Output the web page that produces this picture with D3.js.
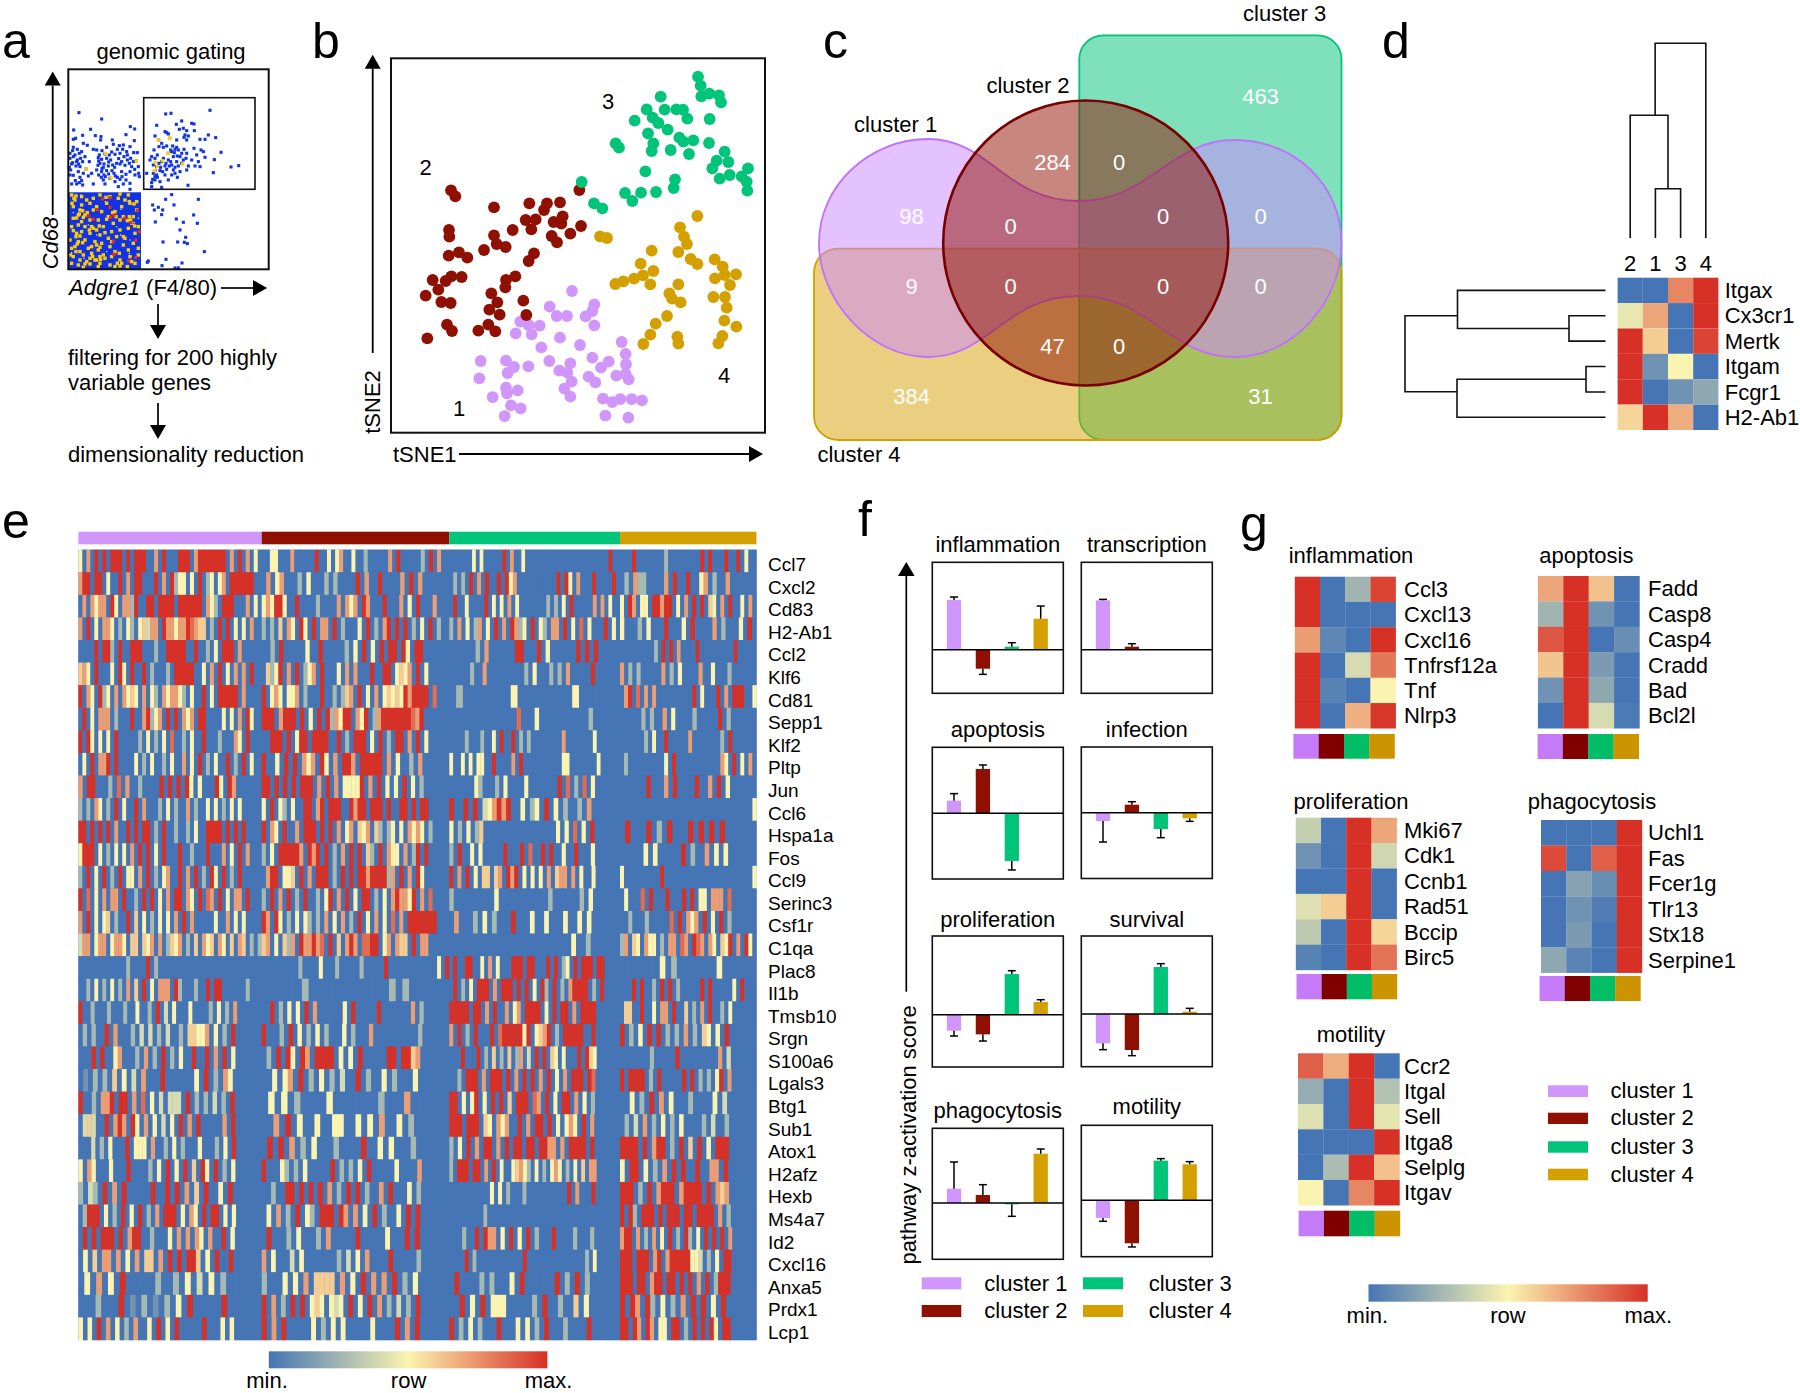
<!DOCTYPE html>
<html><head><meta charset="utf-8">
<script src="https://cdnjs.cloudflare.com/ajax/libs/d3/7.8.5/d3.min.js"></script>
<style>html,body{margin:0;padding:0;background:#fff}svg{display:block}text{font-family:"Liberation Sans",Arial,sans-serif;fill:#000}</style>
</head><body><svg id="c" width="1800" height="1393" viewBox="0 0 1800 1393"></svg>
<script>
/* ---------- DATA ---------- */
const clusterNames=["cluster 1","cluster 2","cluster 3","cluster 4"];
const clusterColors=["#d096fb","#8f1000","#00c47a","#d4a000"];
const clusterColorsDark=["#c57af8","#800000","#00bd66","#cc9400"];
const heatStops=["#4575b4","#fbf4b0","#d73027"];

/* panel a: gating scatter (readings in plot units) */
const gateBlueUpper=[[117,158],[185,177],[101,210],[152,208],[271,200],[284,207],[128,226],[166,227],[183,230],[258,224],[182,240],[107,235],[100,238],[217,240],[283,242],[250,255],[238,257],[220,253],[142,256],[130,250],[100,262],[90,280],[105,285],[118,280],[125,275],[160,268],[170,270],[186,272],[195,282],[215,276],[225,283],[240,280],[260,275],[281,278],[292,278],[90,295],[100,290],[112,300],[122,295],[148,305],[175,293],[185,298],[200,295],[212,300],[230,310],[245,305],[262,300],[272,295],[288,303],[95,312],[108,318],[120,320],[180,310],[192,312],[205,318],[218,315],[240,312],[255,316],[275,320],[295,320],[90,345],[100,346],[115,335],[130,340],[138,327],[155,340],[170,330],[185,335],[192,345],[210,355],[222,340],[232,352],[245,335],[258,343],[270,335],[285,345],[298,350],[106,362],[118,368],[128,375],[145,348],[160,372],[190,360],[195,372],[225,365],[240,358],[250,372],[270,370],[235,380],[270,388],[95,372],[125,362],[178,285],[190,322],[208,285],[176,303],[200,332],[262,285],[280,305],[110,305],[92,330],[98,308],[116,312],[128,305],[88,322],[174,316],[186,326],[206,306],[224,322],[236,296],[252,290],[268,310],[284,328],[296,340],[226,348],[216,332],[196,350],[184,352],[206,342],[246,350],[258,360],[120,352],[110,372],[176,345],[135,290],[98,272],[112,268],[270,260],[248,268],[232,268],[200,262]];
const gateBlueInner=[[377,162],[393,160],[510,151],[409,193],[425,183],[455,190],[462,192],[350,196],[418,208],[463,212],[345,228],[375,215],[385,222],[430,205],[435,225],[445,228],[480,238],[495,238],[527,233],[505,225],[356,240],[389,235],[365,250],[410,240],[380,258],[398,258],[410,262],[440,240],[357,260],[342,270],[352,285],[385,280],[395,275],[415,270],[432,268],[462,265],[483,270],[543,277],[335,290],[345,295],[370,295],[400,290],[420,290],[440,280],[470,285],[490,275],[495,292],[523,299],[330,300],[365,305],[385,300],[410,305],[430,300],[455,300],[475,305],[573,321],[596,317],[520,338],[340,315],[350,320],[375,318],[395,315],[415,318],[445,318],[465,318],[480,320],[320,340],[345,332],[360,332],[380,328],[400,330],[420,335],[440,330],[350,345],[375,345],[395,345],[335,368],[345,360],[360,365],[385,360],[412,352],[335,380],[365,382],[444,376],[405,340],[345,350],[405,268],[378,310],[425,310],[438,295],[392,305],[357,310],[380,218],[432,232],[440,212],[392,270],[403,278],[370,262],[412,288],[425,280],[388,318],[405,322],[368,335],[352,352],[340,340],[362,322],[338,358]];
const gateBlueLower=[[377,418],[395,404],[475,418],[338,435],[402,435],[355,442],[343,450],[368,450],[365,464],[461,465],[346,486],[409,477],[430,487],[472,490],[420,510],[437,532],[369,546],[413,546],[433,547],[442,551],[493,575],[325,603],[378,598],[426,609],[322,607],[366,617],[405,624],[415,624]];
const gateYellow=[[355,240],[389,235],[385,280],[345,307],[367,302],[352,320],[343,332],[428,312],[197,280],[138,327],[213,354],[289,303],[95,405],[105,420],[125,410],[150,430],[180,405],[210,410],[235,415],[265,405],[290,425],[100,440],[125,435],[115,465],[135,465],[160,450],[185,455],[205,470],[245,440],[270,430],[280,470],[100,475],[150,480],[175,480],[220,490],[250,470],[275,490],[295,500],[95,500],[115,495],[135,500],[160,505],[190,500],[215,515],[240,510],[265,505],[285,520],[110,520],[125,515],[150,520],[180,525],[205,535],[230,530],[255,535],[90,540],[115,545],[135,540],[165,545],[185,550],[210,560],[250,555],[280,550],[95,565],[120,575],[145,565],[175,570],[225,575],[265,570],[295,565],[100,590],[130,585],[155,580],[190,585],[215,590],[240,600],[270,590],[295,585],[95,610],[115,615],[140,605],[165,600],[180,610],[210,615],[245,610],[285,610],[130,622],[175,620],[225,620],[262,620],[195,595],[120,450],[170,440],[140,420],[200,430],[255,420],[225,455],[290,450],[108,408],[160,415],[128,452],[108,530],[155,560],[195,518],[238,580],[178,498],[268,470],[120,600],[180,590],[150,612],[96,430],[102,415],[130,472],[142,458],[110,474],[118,462],[148,510],[155,500],[170,510],[120,528],[112,552],[105,560],[128,548],[170,555],[180,562],[158,590],[170,600],[182,598],[240,480],[262,482],[272,480],[284,498],[228,470],[218,458],[198,412],[240,402],[268,425],[282,432],[92,585],[108,575],[232,610],[240,618],[275,605],[150,595],[135,612],[200,478],[250,530],[215,545],[125,485],[100,512]];
const gateRed=[[187,417],[212,413],[210,442],[172,449],[146,468],[160,478],[222,466],[212,472],[254,475],[292,452],[273,488],[298,515],[220,544],[287,541],[222,583],[287,593],[266,603]];
const gateGaps=[[123,405],[196,425],[243,448],[283,488],[242,525],[100,458],[145,495],[270,540],[200,575],[95,578],[170,525],[295,475],[230,500],[132,595],[268,580]];
const gateDenseBlock=[[87,397],[303,628]];

/* panel b: tSNE readings */
const tsne1=[[636,753],[703,793],[569,800],[697,813],[677,829],[590,828],[621,828],[481,845],[506,855],[539,857],[703,856],[467,880],[515,883],[600,893],[544,922],[660,915],[785,906],[797,942],[697,953],[362,963],[438,962],[462,981],[568,963],[631,970],[746,965],[798,973],[723,983],[505,979],[443,999],[358,1015],[598,992],[622,998],[769,1007],[797,1002],[686,1010],[806,1018],[635,1025],[706,1027],[438,1043],[473,1051],[441,1060],[613,1046],[398,1071],[631,1070],[729,1076],[757,1086],[781,1077],[815,1077],[846,1081],[453,1096],[482,1105],[434,1128],[736,1127],[805,1133]];
const tsne2=[[273,451],[286,469],[402,502],[508,490],[561,490],[600,487],[552,510],[658,450],[497,540],[527,538],[608,529],[514,568],[581,546],[604,551],[663,558],[267,570],[268,590],[458,570],[402,586],[575,588],[591,607],[631,581],[410,612],[437,621],[372,630],[297,637],[266,647],[322,653],[522,640],[506,663],[466,709],[438,720],[436,742],[305,711],[274,709],[257,723],[218,720],[235,749],[197,767],[244,786],[272,789],[394,760],[412,787],[388,809],[419,824],[490,782],[499,825],[261,854],[276,873],[385,854],[355,872],[406,874],[202,895]];
const tsne3=[[1014,110],[1022,137],[1024,169],[1048,161],[1077,166],[1083,187],[902,170],[860,208],[914,209],[949,208],[969,209],[982,236],[824,242],[878,233],[895,249],[1049,237],[923,269],[864,280],[958,293],[970,305],[1000,301],[1047,309],[880,310],[875,333],[932,330],[987,342],[767,310],[777,323],[1094,335],[1070,362],[1105,366],[1057,385],[1164,385],[1109,405],[1079,416],[1145,409],[1160,425],[1162,452],[856,394],[945,418],[941,444],[795,459],[843,458],[888,456],[817,483],[665,426],[702,490],[727,505]];
const tsne4=[[1012,528],[960,562],[972,590],[981,612],[955,636],[992,657],[1012,672],[875,632],[842,671],[880,693],[849,706],[822,716],[790,724],[766,732],[871,733],[720,589],[741,594],[1064,658],[1088,680],[1128,703],[1094,705],[1065,715],[1110,735],[1060,771],[1095,771],[1100,803],[955,733],[928,760],[936,776],[962,787],[921,828],[887,851],[871,884],[850,912],[952,890],[955,911],[1093,842],[1129,860],[1087,888],[1075,910]];
const tsneLabels=["1","2","3","4"];

/* panel c */
const vennCounts=["463","284","0","98","0","0","0","9","0","0","0","47","0","384","31"];

/* panel d */
const dCols=["2","1","3","4"];
const dRows=["Itgax","Cx3cr1","Mertk","Itgam","Fcgr1","H2-Ab1"];
const dItgax=[0,0,.78,1],dCx3cr1=[.45,.7,0,1],dMertk=[1,.6,0,.95],dItgam=[1,.12,.5,0],dFcgr1=[1,0,.12,.2],dH2Ab1=[.58,1,.68,0];
const dTopTree={h:194.7,kids:[{h:122.7,f:.66,kids:[{leaf:"2"},{h:49.3,kids:[{leaf:"1"},{leaf:"3"}]}]},{leaf:"4"}]};
const dLeftTree={h:200.5,kids:[{h:148,f:.665,kids:[{leaf:"Itgax"},{h:36.5,kids:[{leaf:"Cx3cr1"},{leaf:"Mertk"}]}]},{h:148.5,f:.33,kids:[{h:19.5,kids:[{leaf:"Itgam"},{leaf:"Fcgr1"}]},{leaf:"H2-Ab1"}]}]};

/* panel e: each row has four cluster segments; letters are expression levels */
const eGenes=["Ccl7","Cxcl2","Cd83","H2-Ab1","Ccl2","Klf6","Cd81","Sepp1","Klf2","Pltp","Jun","Ccl6","Hspa1a","Fos","Ccl9","Serinc3","Csf1r","C1qa","Plac8","Il1b","Tmsb10","Srgn","S100a6","Lgals3","Btg1","Sub1","Atox1","H2afz","Hexb","Ms4a7","Id2","Cxcl16","Anxa5","Prdx1","Lcp1"];
const eLevels={".":0,_:0,b:.12,g:.27,c:.4,y:.5,p:.6,o:.72,s:.85,r:1};
const eRows=[
"y.o.r.r.rrr.r.rrr..o.r...rrr.orrrrrrr.o.r.o.y.|..yy...o.....r..y.yo..y..g.....o.r.....g.r.o..|......y.y.....r.o..y......................r..|...r.......g........r.r...r..r.y..",
"orr.rr.y..r.o.rr...r.o.rgyy.y.r.gy.yo.rrrrrr..|.o.yo...g.y...g.g....r.o..r....o.r.o..........|.g.g.r.o.r..r.ryo..........r.ry.o...r....r.|.g.ogg....o.r..r..yo.g..o..........",
".o.oyoo.ry.oogr..rr.rrrr.rrrrrr.oyg.rrr...o.y.|yoyrry..r....g....o.oyo.ro...r...o.y.r...o...|.r..y....r.y.y.o.y.......g.g.y.r.....o.o.y..|y.ro.yy.rrorr.y.o.r.r.py.o.r..y.o.",
"o.r.y.ooy.g.yg.ypcoo.rooyoorsopp.g.r.r.y.y.o..|g.g.p.oy.ry.r.oo.r.g...y.r.g.or.r.r.g.y.r.g..|g.o.y.go.y.r.o.rogy.r.yg.oo.r.y.s.y...r.y.|y...g.y...r...y.r....o.g...y.r.",
"....r.rrg.r..rrr...g..rrrrr..r..g.y.rrr.o.....|..g.r.....y..r.....g.y.r.y.r.rr.ry.rr.........|......g.o......rr...r.y......r.r.r.....|.........g.r.r.o....r.........r.....",
"poy.r...y.ry.r..r.g...g.rrrrr..y.o.r.y.o.o.r..|.pgyr.o.r.gyo.r...y.o.o...r..rr.ypyo.r.y.....|.....g..o.........g.y...g.g.o.....r.........|o.g.g.....o.g.y....o..y...g.......",
"r.oy.rgy.o.oypy.o.yg.oyooyg.y..r.y.rrrrr.o....|r.yoy.yyo.g...r..g.gpo.r.y.o.ypypyrorrrr.s...|.g.......y........y...........................|.or.s.o.o.........r.y...r.o.rrr..y",
".r.y.ooo.g...r..orgyo.r.r.oyo.rr....y.y.o.ry..|rrr.orrr.r.y.r.rgoyrr.oyr.gorrrrrrrsor.......|...............s...y...........g..............|.....g.g..o.y....g.....r.g........",
"r.ry.y.y.r.....g.y.g.y.s..g.y..r...g...oy.r...|..rrr.r.yrr.rrrr..r.g.rrr.y.r.g.rr.o.r.y.....|....g...g..y.r..r.g.g........o.......y......|......g.y..r.....o.......g.r......",
".y.r.oor.r....y.g.y..g.y..o.y.r.g.y..r.g.r.y..|r..y.r.r.oyo.ry.o.rro.rrrrr.o.y..g.o.........|y..y.y.yy..r....o.r..........yy.......y.....|.g.........y.r...........oy.r.y.o.",
"o.rr...g.s.o..g....r.r.r.ry.y...ry.ro.........|rr.r.r.r.rrr.o.r.o.yyyyr.o.r.y.y.r.y.g.......|......yg...g.y....y.......r.s.g.s.y.........|......r...o.r....r..o.r.y.........",
"g.g.oy.g.r.y..r.o...g.y.g..o.g..y.y.g.y.y.....|y.r.yg.y..rr.or.rrr..rorr.rrr.r..rr.r.rr.....|r..r.r.cyoror..y.gy.r.y.g..g.o.............|.................................y",
"rr.r.r.r.o..r.r.rr.g.r..g..g.y..rrrr.r.r.r....|r.oy.r..o.rrr.r.r.o.yo.pyo.pg.gy.y.oyoy.g....|y.g.y.gp.................y.y.s.y.r.........|.r...r.g.r...r.r.r.r.............",
"yrrr.y.g.y.y.o.r.r.y.r...r..g...r...o.y.r.o...|g.y.rrrrro.ror.r.g.o.r.r.pg.r.oyy.o.gr.r.....|g.r..y.y.....r...r.s..r.r..y..r...y.........|.....y.y.....r.g..o.y.y..........",
"g.r.y.r.g.r.yy.o.r.g.yo..r.o.r.g.ry.r.g.r.....|.orr.yyp.r.o.rrr.g.r.r.rrorrrrgo.r.o.ry......|r.o.r.y.pp.po.ror.y.y.y.o.poo.o.y..y.......|y.........r......................y",
"r.s.y.o.oo.r..g.r.r.y.o.rr.oy.r.so.r.y.oo.r...|g.r.o.r.g.r..g.yr.o.r.y.rr.g.y.orooyr.o.s....|g.........y...........g......g.y............|.y...s.r...r...r.r.yy.ooo.s.......",
"o.r.y.yp.g..r.p.y.g.y.y.o.r.o.....y..o.y.y....|ro.ry.g.y.yg.g.o.y.o.g.r.y.o.y.s.o.rrrrrrr...|.o...g.y.g...r...y..y...y..y.y..............|..g...g.....s.r.oyo.r.y.r.g.......",
"coo.yoo.yooy.pp.pyo.o.gpyo.g.p.oyp.oy.p.op.g.g|po.y.pgo.rooros.r.p.oro.ssrr.yo.opp.r.oo.....|.........................y..g................|go.py.oyy.g.oo.so.rso.oy.pyr.o.ry.",
"............g....r.g..........._______________|.........g....y...g.....g.....r............y.r|.r..rr..y.o.y...rrr.rr...r.r.gy.r.rrr.rr....|.......y.g.......y................",
"..g.y.g.y.g.o.p.r.y.ooo.rg...g..r.rr......g...|......g............g.g.......................|.r.g.y.rrr.o.rrr.r.r.y.rg.r.g.orrrr.g.r....|...r.r..g.r.r.g.....r.r.....y.r...",
"r..g...g...g..y..g.r.c.y...y....g.y.g.o.......|..r.g.y.y.r.o......y.r.....r.......o.g.......|rrrrr.rr.o.r..o.yo.rrrr.y.r.rr.o.rrrr.......|.pp..r..y.oo.r..p.g.o.r..g.y......",
".g.g..r.o...g.c.c.g.c..g.ppyyo.y.g.r..........|r...g.r.y.g.y.g...y.g...o..........g.........|o.r.g.r...r.srrrrryr.ypor.g.rrrrr..r........|r.g.y.r.r.g.g.o.g.py.y.r..........",
"...r.r..yo...g.o.g.r.g.y..r..r.o.r.y..........|.g.r.ry.ro.rrrr.y.y.r.....rr.rrpo............|...r...r.g.p.g.p.go.c.r.r.py.y...r.rpy......|.......g.....r.........o.c.........",
".b.g.g.p.y.c.o...r......y.r.g.oy..............|..y.yo.r.g.y.g.c..r.g..y.g...y...............|..g.rrr.o.rrr.r.o.r.r.o.r.y.o.rrr.rs........|r.rrrr.g.r.....r.r.g.g.yr.o.......",
"r..g.oor.rr.o.s.y.c.ccc.r.g.g.c.g.r...........|.y.y.g....y.......g...o......................|rr.y.yr.y.r.r.p.rrr.so.r.y.rr.o.y.g.........|..y.g.r.o.y...g....y.c............",
".cpc..r.oro.ry.o.y.c.y.r.o.r.....o.r..........|..o.r.y..y..yy..y.y.o..y.g...................|rrr.rrr.py.oyo..r.o.rr.r.y.yoy.r.o...........|.g.c.o.g.y.g.y....g.c..g..........",
"...c.g.y...r.yyy.o..g.y.g...y...g.y.r.........|.r.r.o.g.y...g....r..y.y...g.................|g.y.r.o.rr.o.r.rr.rr.rroo.o.rrrr.r..........|rrrr.r.orr.g.r.p.r.y.rrr..........",
"y.oy...y...r....g.y.r.y.r.p.ry.r.g.y..........|r...yg.g.y.....r.g.g.y.r.....y....o..........|g.rrr.rr.o.r.y..ypoyg.y.g.yoy.g.y.p.oo......|y.rr.y.g.o.r.r..r..oo.r...........",
"g.cg.r.o.r.....r..r.r.o.p.r..y.r..............|..g..rr.r.r.r.o.g.r.r.g..o.r...y.g...........|..........y.y.g...g..........r.o...r.........|rrr.g.r.orrr.orrrr.r.opo..........",
".grrr.y.g.r.y.r.g.o.rrr.y.oy.r.rr.y.y.........|.y.o.g.r.yg.rrr.ro.o.y.r.g..y.r.r............|.........g___________________________________|r.rg.rrr.r.rrr.rr.rrrr.o.g........",
".r.r.rrr.r.orr..g...y.o.o.oy.o..r.y...........|.r...g.y...g.o.....r.....y...r.r..............|...g..r.roo.y.r.y.r.g...r....g...g...........|orr.o.g.o.y.r.g.rg.y.r.r.r.o......",
".y.p.oo.o.y.o.pp.o.r.r.rrp.y.r..r.............|o.y...c.y.......g.c.y.o....r.....g............|....r.g............r...............g.y.......|rrr.rrr.or.orrrrryyc.g.y.rr.......",
".y.o.y.r.....g..g.y.c.y.g.....................|g...y.y.o.pppp.o.y.r.o.o.r.g.y................|.r....g.g...y.r......r.g.r.g.................|rrr.rr.orr.rr.r.r.o.r.grrr........",
"...g...r.b.g.b.g.y.r.....r....................|r.o.g.r.r.ypy.ycy.r.y.r.o.g.c.g.r.............|..r.y.r.yyy.....g.r..g..p.y..................|r.ro.rg.y.g.o.r.r.y.r.............",
"y.y.r.o.y.g.o..y.r.y.r.....r...y.y............|r.o.r.....y.g.y.y.....y....r.o.r..............|r.g.y.g...r...y.y.g.r...g....r...............|rr.ro.ro.yy.rr.g.r.r.ry.rr........"
];

/* panel f: bar value and error tip for the four clusters */
const fPathways=["inflammation","transcription","apoptosis","infection","proliferation","survival","phagocytosis","motility"];
const fInflammation=[149,-57,9,93],fInflammationErr=[158,-74,21,131];
const fTranscription=[148,9,0,0],fTranscriptionErr=[151,18,null,null];
const fApoptosis=[38,133,-143,0],fApoptosisErr=[59,145,-170,null];
const fInfection=[-25,24,-49,-17],fInfectionErr=[-88,33,-75,-26];
const fProliferation=[-48,-59,122,38],fProliferationErr=[-64,-79,132,45];
const fSurvival=[-88,-108,141,7],fSurvivalErr=[-107,-125,151,17];
const fPhagocytosis=[43,24,-4,148],fPhagocytosisErr=[123,55,-40,162];
const fMotility=[-53,-129,119,108],fMotilityErr=[-63,-140,125,116];

/* panel g */
const gInflammationGenes=["Ccl3","Cxcl13","Cxcl16","Tnfrsf12a","Tnf","Nlrp3"];
const gInflammation=[[1,0,.25,.95],[1,0,0,0],[.72,.07,0,1],[1,0,.4,.82],[1,.05,0,.5],[1,0,.67,.98]];
const gApoptosisGenes=["Fadd","Casp8","Casp4","Cradd","Bad","Bcl2l"];
const gApoptosis=[[.7,1,.63,0],[.25,1,.12,0],[.9,1,0,.1],[.62,1,.15,0],[.12,1,.2,0],[0,1,.4,.02]];
const gProliferationGenes=["Mki67","Cdk1","Ccnb1","Rad51","Bccip","Birc5"];
const gProliferation=[[.35,0,1,.7],[.12,0,1,.38],[0,0,1,0],[.42,.6,1,0],[.33,0,1,.58],[.05,0,1,.83]];
const gPhagocytosisGenes=["Uchl1","Fas","Fcer1g","Tlr13","Stx18","Serpine1"];
const gPhagocytosis=[[0,0,0,1],[.93,0,.88,1],[0,.18,.1,1],[0,.12,.03,1],[0,.15,0,1],[.2,.06,0,1]];
const gMotilityGenes=["Ccr2","Itgal","Sell","Itga8","Selplg","Itgav"];
const gMotility=[[.88,.68,1,0],[.22,0,1,.3],[.42,0,1,.44],[0,0,0,1],[0,.28,1,.63],[.5,0,.78,1]];

/* ---------- DRAW ---------- */
const svg=d3.select("#c");
const heat=d3.scaleLinear().domain([0,.5,1]).range(heatStops).interpolate(d3.interpolateRgb);
function T(x,y,s,o={}){const size=o.size||22;
  return svg.append("text").attr("x",x).attr("y",y+(o.raw?0:size*.35)).attr("text-anchor",o.a||"start")
   .attr("font-size",size).attr("font-style",o.italic?"italic":null).style("fill",o.fill||"#000").text(s);}
function Box(x0,y0,x1,y1,w=1.7){svg.append("rect").attr("x",x0).attr("y",y0).attr("width",x1-x0).attr("height",y1-y0).attr("fill","none").attr("stroke","#111").attr("stroke-width",w);}
function Arrow(x0,y0,x1,y1,hw=8,hl=14,w=1.7){ // shaft and filled triangle head
  const dx=x1-x0,dy=y1-y0,L=Math.hypot(dx,dy),ux=dx/L,uy=dy/L,bx=x1-ux*hl,by=y1-uy*hl;
  svg.append("line").attr("x1",x0).attr("y1",y0).attr("x2",bx).attr("y2",by).attr("stroke","#000").attr("stroke-width",w);
  svg.append("path").attr("d",`M${x1},${y1}L${bx-uy*hw},${by+ux*hw}L${bx+uy*hw},${by-ux*hw}Z`).attr("fill","#000");
}
function PanelLabel(x,y,s){T(x,y,s,{size:50,raw:true});}
[["a",2,58],["b",312,58],["c",823,58],["d",1382,58],["e",2,538],["f",858,536],["g",1240,541]].forEach(d=>PanelLabel(d[1],d[2],d[0]));
function Gradient(id){const g=svg.append("defs").append("linearGradient").attr("id",id);
  d3.range(0,1.01,.1).forEach(t=>g.append("stop").attr("offset",t).attr("stop-color",heat(t)));}
Gradient("hg");
function ColorBar(x0,x1,y0,y1,lx0,lxm,lx1,base){
  const b=d3.scaleLinear().domain([0,1]).range([x0,x1]);
  svg.append("rect").attr("x",b(0)).attr("y",y0).attr("width",b(1)-b(0)).attr("height",y1-y0).attr("fill","url(#hg)");
  T(lx0,base,"min.",{a:"middle",raw:true});T(lxm,base,"row",{a:"middle",raw:true});T(lx1,base,"max.",{a:"middle",raw:true});
}

/* panel a */
T(171,51,"genomic gating",{a:"middle"});
const ax=d3.scaleLinear().domain([85,686]).range([68.3,268.7]),ay=d3.scaleLinear().domain([28,628]).range([69.3,269.3]);
svg.append("rect").attr("x",ax(gateDenseBlock[0][0])).attr("y",ay(gateDenseBlock[0][1])).attr("width",ax(gateDenseBlock[1][0])-ax(gateDenseBlock[0][0])).attr("height",ay(gateDenseBlock[1][1])-ay(gateDenseBlock[0][1])).attr("fill","#1133e6");
function Sq(data,col,s=3){svg.append("g").selectAll("rect").data(data).join("rect").attr("x",d=>ax(d[0])-s/2).attr("y",d=>ay(d[1])-s/2).attr("width",s).attr("height",s).attr("fill",col);}
Sq(gateGaps,"#fff",1.2);Sq(gateBlueUpper,"#1133e6",3.1);Sq(gateBlueInner,"#1133e6",3.1);Sq(gateBlueLower,"#1133e6",3.1);Sq(gateYellow,"#ffcc00",3.4);Sq(gateRed,"#f02a10",3.2);
Box(68.3,69.3,268.7,269.3,2);Box(143.7,97.7,255,189.3,1.6);
Arrow(52.7,215,52.7,71.5,8,14,1.8);
svg.append("text").attr("transform","translate(58,243) rotate(-90)").attr("text-anchor","middle").attr("font-size",22).attr("font-style","italic").text("Cd68");
{const t=T(69,287,"Adgre1",{italic:true});t.append("tspan").attr("font-style","normal").text(" (F4/80)");}
Arrow(221,288,267,288,8,14);
Arrow(158,304,158,339,8,14);
T(68,365,"filtering for 200 highly",{raw:true});
T(68,390,"variable genes",{raw:true});
Arrow(158,403,158,439,8,14);
T(68,462,"dimensionality reduction",{raw:true});

/* panel b */
const bx=d3.scaleLinear().domain([93,1215]).range([391,765]),by=d3.scaleLinear().domain([55,1178]).range([58.3,432.7]);
[[tsne1,0],[tsne4,3],[tsne2,1],[tsne3,2]].forEach(([pts,i])=>{
  svg.append("g").selectAll("circle").data(pts).join("circle").attr("cx",d=>bx(d[0])).attr("cy",d=>by(d[1])).attr("r",5.9).attr("fill",clusterColors[i]);
});
Box(391,58.3,765,432.7,2);
[[459,408],[425.7,167.7],[608,101.7],[724,375]].forEach((p,i)=>T(p[0],p[1],tsneLabels[i],{a:"middle"}));
Arrow(372.7,353,372.7,54.7,8,14,1.8);
svg.append("text").attr("transform","translate(380,402) rotate(-90)").attr("text-anchor","middle").attr("font-size",22).text("tSNE2");
T(393,462,"tSNE1",{raw:true});
Arrow(459,454,763,454,8,14,1.8);

/* panel c */
function RR(x0,y0,x1,y1,r,col,op){svg.append("rect").attr("x",x0).attr("y",y0).attr("width",x1-x0).attr("height",y1-y0).attr("rx",r).attr("ry",r).attr("fill",col).attr("fill-opacity",op).attr("stroke",col).attr("stroke-width",1.8);}
RR(1079.3,35.3,1341.5,440,24,"#00c47a",.5);
RR(814,248.7,1341.5,440,24,"#d4a000",.5);
svg.append("path").attr("d","M819,243 C819,185 870,139 928,139 C990,139 1005,201 1079,201 C1150,201 1170,140 1234,140 C1295,140 1341.5,185 1341.5,243 C1341.5,300 1295,357 1234,357 C1170,357 1150,296 1079,296 C1005,296 990,357 928,357 C870,357 819,300 819,243 Z")
 .attr("fill","#cc88ff").attr("fill-opacity",.52).attr("stroke","#c070ff").attr("stroke-width",1.8);
svg.append("circle").attr("cx",1085.7).attr("cy",243).attr("r",142.5).attr("fill","#8f1000").attr("fill-opacity",.5).attr("stroke","#780000").attr("stroke-width",2.6);
[[1260.5,96],[1052.5,162],[1119,162],[911.6,216.7],[1010.5,226.7],[1163,216.7],[1260.5,216.7],[911.6,286.7],[1010.5,286.7],[1163,286.7],[1260.5,286.7],[1052.5,346.7],[1119,346.7],[911.6,396.7],[1260.5,396.7]]
 .forEach((p,i)=>T(p[0],p[1],vennCounts[i],{a:"middle",fill:"#fff"}));
[[1284.7,13.3],[1028,85.7],[895.7,124],[859,454]].forEach((p,i)=>T(p[0],p[1],clusterNames[[2,1,0,3][i]],{a:"middle"}));

/* panel d */
const dx=d3.scaleBand().domain(dCols).range([1617.6,1718.4]),dy=d3.scaleBand().domain(dRows).range([277.7,430]);
[dItgax,dCx3cr1,dMertk,dItgam,dFcgr1,dH2Ab1].forEach((row,r)=>{
  svg.append("g").selectAll("rect").data(row).join("rect").attr("x",(d,i)=>dx(dCols[i])).attr("y",dy(dRows[r])).attr("width",dx.bandwidth()).attr("height",dy.bandwidth()).attr("fill",d=>heat(d));
  T(1724.7,dy(dRows[r])+dy.bandwidth()/2,dRows[r]);
});
dCols.forEach(c=>T(dx(c)+dx.bandwidth()/2,263,c,{a:"middle"}));
function Tree(node,leafPos,hPos,horizontal){ // returns [leaf axis pos, height pos]
  if(node.leaf) return [leafPos(node.leaf),hPos(0)];
  const a=Tree(node.kids[0],leafPos,hPos,horizontal),b=Tree(node.kids[1],leafPos,hPos,horizontal),h=hPos(node.h),f=node.f===undefined?.5:node.f,m=a[0]+(b[0]-a[0])*f;
  const d=horizontal?`M${a[1]},${a[0]}H${h}V${b[0]}H${b[1]}`:`M${a[0]},${a[1]}V${h}H${b[0]}V${b[1]}`;
  svg.append("path").attr("d",d).attr("fill","none").attr("stroke","#111").attr("stroke-width",1.6);
  return [m,h];
}
Tree(dTopTree,l=>dx(l)+dx.bandwidth()/2,d3.scaleLinear().domain([0,194.7]).range([238,43.3]),false);
Tree(dLeftTree,l=>dy(l)+dy.bandwidth()/2,d3.scaleLinear().domain([0,200.5]).range([1605.5,1405]),true);

/* panel e */
const eX=[78.4,261.7,449.3,620,756.4];
clusterColors.forEach((c,i)=>svg.append("rect").attr("x",eX[i]).attr("y",531.7).attr("width",eX[i+1]-eX[i]).attr("height",12.6).attr("fill",c));
const eY=d3.scaleBand().domain(eGenes).range([549.7,1340]);
svg.append("rect").attr("x",eX[0]).attr("y",549.7).attr("width",eX[4]-eX[0]).attr("height",790.3).attr("fill",heatStops[0]);
eRows.forEach((row,r)=>{
  row.split("|").forEach((seg,s)=>{
    const chars=seg.replace(/\.+$/,m=>m.length>6?".".repeat(6):m).split("");
    const band=d3.scaleBand().domain(d3.range(chars.length)).range([eX[s],eX[s+1]]);
    svg.append("g").selectAll("rect").data(chars).join("rect").attr("x",(d,i)=>band(i)).attr("y",eY(eGenes[r])).attr("width",band.bandwidth()+.3).attr("height",eY.bandwidth()+.3).attr("fill",d=>heat(eLevels[d]));
  });
  T(768,eY(eGenes[r])+eY.bandwidth()/2+3.5,eGenes[r],{size:19});
});
ColorBar(268.8,547.4,1351.3,1368.3,267,408.6,548.5,1388);

/* panel f */
const fLayout=[[932.3,562.3,693.3,649.7,551.7],[1081.3,562.3,693.3,649.7,551.7],[932.3,747.3,879,813.3,737],[1081.3,747,878.5,812.7,737],[932.3,936,1067,1014.7,926.7],[1081.3,936,1066.7,1014,926.7],[932.3,1128.3,1259.3,1203,1118],[1081.3,1125.3,1256.7,1200.3,1114]];
[[fInflammation,fInflammationErr],[fTranscription,fTranscriptionErr],[fApoptosis,fApoptosisErr],[fInfection,fInfectionErr],[fProliferation,fProliferationErr],[fSurvival,fSurvivalErr],[fPhagocytosis,fPhagocytosisErr],[fMotility,fMotilityErr]].forEach(([v,e],p)=>{
  const [x0,y0,y1,z,base]=fLayout[p],x1=x0+131;
  const y=d3.scaleLinear().domain([0,100]).range([z,z-33.33]);
  const w=14.3,cx=i=>x0+21.7+i*28.9;
  svg.append("g").selectAll("rect").data(v).join("rect").attr("x",(d,i)=>cx(i)-w/2).attr("y",d=>Math.min(y(d),y(0))).attr("width",w).attr("height",d=>Math.abs(y(d)-y(0))).attr("fill",(d,i)=>clusterColors[i]);
  e.forEach((t,i)=>{if(t===null)return;
    svg.append("line").attr("x1",cx(i)).attr("x2",cx(i)).attr("y1",y(v[i])).attr("y2",y(t)).attr("stroke","#000").attr("stroke-width",1.5);
    svg.append("line").attr("x1",cx(i)-4).attr("x2",cx(i)+4).attr("y1",y(t)).attr("y2",y(t)).attr("stroke","#000").attr("stroke-width",1.5);});
  Box(x0,y0,x1,y1,1.6);
  svg.append("line").attr("x1",x0).attr("x2",x1).attr("y1",z).attr("y2",z).attr("stroke","#000").attr("stroke-width",1.6);
  T((x0+x1)/2,base,fPathways[p],{a:"middle",raw:true});
});
Arrow(906.3,991.7,906.3,562,8.3,14,1.7);
svg.append("text").attr("transform","translate(916,1135) rotate(-90)").attr("text-anchor","middle").attr("font-size",22).text("pathway z-activation score");
function Legend(rows){rows.forEach(([sx0,sx1,sy0,sy1,tx,ty,i])=>{
  svg.append("rect").attr("x",sx0).attr("y",sy0).attr("width",sx1-sx0).attr("height",sy1-sy0).attr("fill",clusterColors[i]);
  T(tx,ty,clusterNames[i]);});}
Legend([[921.7,961.3,1277.3,1289.3,984.3,1283.3,0],[921.7,961.3,1305,1317,984.3,1310.7,1],[1083,1123,1277.3,1289.3,1148.7,1283.3,2],[1083,1123,1305,1317,1148.7,1310.7,3]]);

/* panel g */
function GHeat(title,tx,tb,genes,vals,x0,x1,y0,y1,cx0,cx1,cy0,cy1,lx){
  T(tx,tb,title,{a:"middle",raw:true});
  const x=d3.scaleBand().domain(d3.range(4)).range([x0,x1]),y=d3.scaleBand().domain(genes).range([y0,y1]);
  vals.forEach((row,r)=>{
    svg.append("g").selectAll("rect").data(row).join("rect").attr("x",(d,i)=>x(i)).attr("y",y(genes[r])).attr("width",x.bandwidth()+.2).attr("height",y.bandwidth()+.2).attr("fill",d=>heat(d));
    T(lx,y(genes[r])+y.bandwidth()/2,genes[r]);
  });
  const c=d3.scaleBand().domain(d3.range(4)).range([cx0,cx1]);
  svg.append("g").selectAll("rect").data(clusterColorsDark).join("rect").attr("x",(d,i)=>c(i)).attr("y",cy0).attr("width",c.bandwidth()+.2).attr("height",cy1-cy0).attr("fill",d=>d);
}
GHeat("inflammation",1351,563,gInflammationGenes,gInflammation,1294.8,1395.7,576.7,728.3,1293.4,1394.6,734,758.7,1404);
GHeat("apoptosis",1586.4,563,gApoptosisGenes,gApoptosis,1537.9,1639.5,576,728.3,1537.6,1638.8,734,759,1648);
GHeat("proliferation",1351,809,gProliferationGenes,gProliferation,1295.8,1396.7,817.7,970,1296.5,1397,974,999.3,1404);
GHeat("phagocytosis",1592,809,gPhagocytosisGenes,gPhagocytosis,1541,1642,820,972.7,1539.6,1640.5,976,1001,1648);
GHeat("motility",1351,1041.7,gMotilityGenes,gMotility,1298,1399.5,1053.3,1205.3,1298.6,1400,1210.7,1236.3,1404);
Legend([[1548,1588,1085.3,1097,1610.6,1090.7,0],[1548,1588,1112.7,1124,1610.6,1117.3,1],[1548,1588,1141.3,1152.7,1610.6,1146.7,2],[1548,1588,1168.7,1180.3,1610.6,1174,3]]);
ColorBar(1368.5,1647.7,1284.3,1301.7,1367.4,1508,1648.4,1322.7);
</script></body></html>
